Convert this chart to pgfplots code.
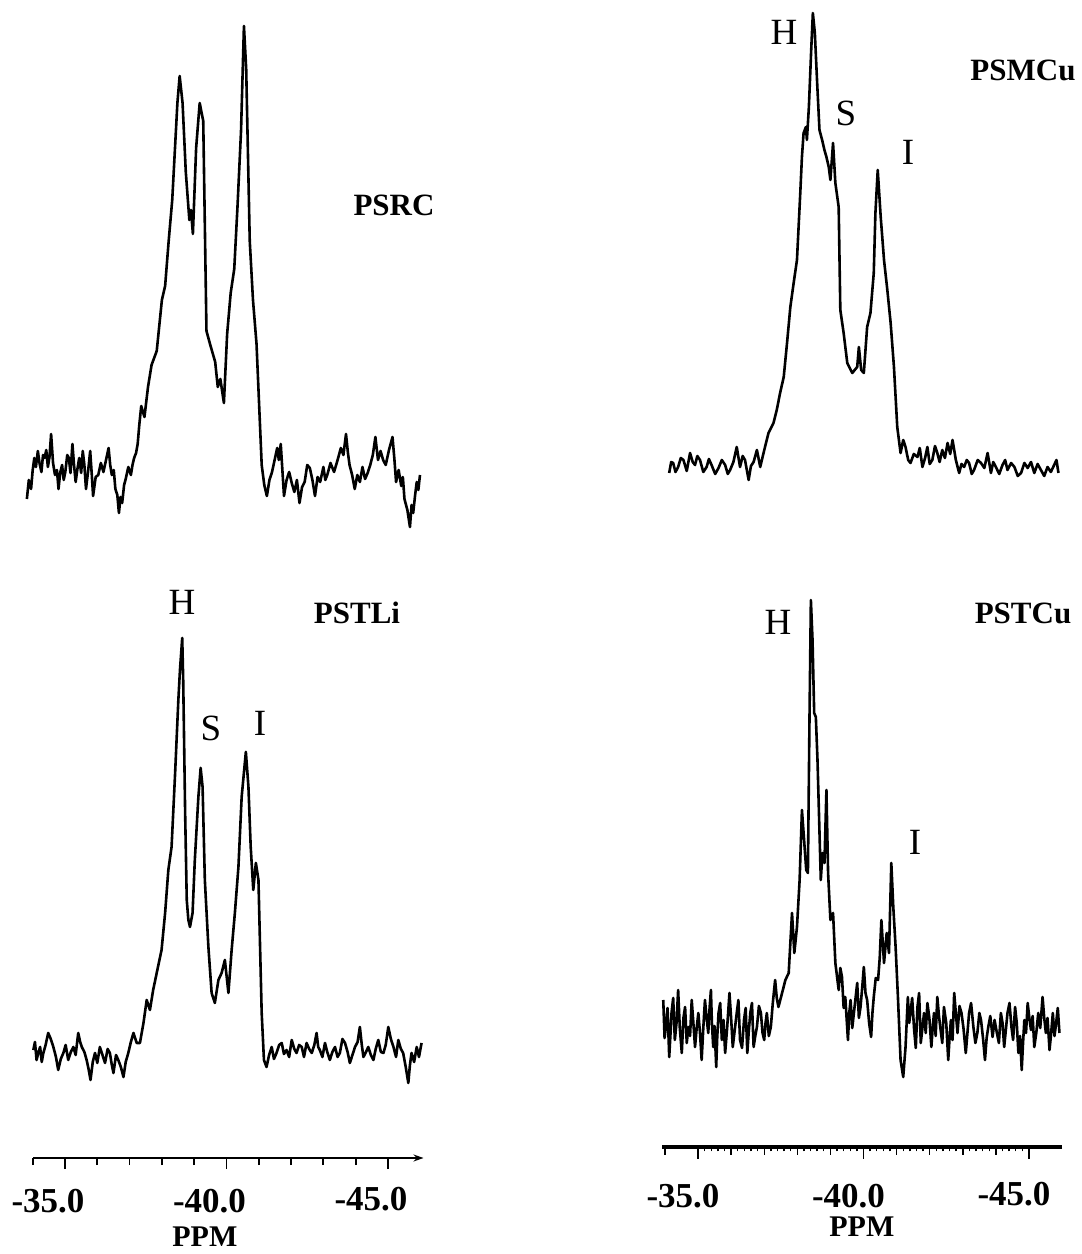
\documentclass[border=0pt]{standalone}
\usepackage{fontspec}
\setmainfont{Liberation Serif}
\usepackage{pgfplots}
\pgfplotsset{compat=1.18}
\usetikzlibrary{arrows.meta}

\pgfplotsset{
  spec/.style={scale only axis, enlargelimits=false, clip=false,
    x dir=reverse, anchor=south west},
  trace/.style={black, line width=1.3pt, line join=round, no marks},
  bigtick/.style={font=\bfseries\fontsize{17.5}{17.5}\selectfont, inner sep=0pt},
}
\newcommand{\lab}{\fontsize{18.5}{18.5}\selectfont}
\newcommand{\name}{\bfseries\fontsize{15.5}{15.5}\selectfont}

\begin{document}
\begin{tikzpicture}
\path (0pt,0pt) rectangle (541pt,627pt);

% PSRC
\begin{axis}[spec, hide axis, at={(8.275pt,349.5pt)}, width=209.95pt, height=275pt,
  xmin=-46.5, xmax=-33.5, ymin=-80, ymax=470]
\addplot[trace] coordinates {
(-33.82,-24) (-33.88,-5) (-33.95,-14) (-34.00,5) (-34.05,17) (-34.10,8)
(-34.16,24) (-34.21,12) (-34.27,3) (-34.32,20) (-34.37,17) (-34.42,25)
(-34.47,8) (-34.52,18) (-34.57,41) (-34.63,12) (-34.69,0) (-34.75,5)
(-34.80,-14) (-34.85,2) (-34.91,10) (-34.96,-5) (-35.01,3) (-35.07,20)
(-35.12,17) (-35.17,2) (-35.23,31) (-35.28,10) (-35.33,-7) (-35.38,5)
(-35.44,17) (-35.50,2) (-35.55,24) (-35.60,10) (-35.65,-14) (-35.72,5)
(-35.78,24) (-35.83,0) (-35.87,-21) (-35.95,-2) (-36.03,0) (-36.11,12)
(-36.19,3) (-36.27,15) (-36.35,27) (-36.40,10) (-36.45,0) (-36.51,5)
(-36.56,-14) (-36.62,-20) (-36.67,-38) (-36.72,-22) (-36.77,-28) (-36.83,-10)
(-36.88,-4) (-36.96,8) (-37.04,0) (-37.09,10) (-37.14,17) (-37.20,22)
(-37.25,31) (-37.30,50) (-37.36,69) (-37.46,58) (-37.57,88)
(-37.68,110) (-37.84,124) (-38.00,175) (-38.10,189) (-38.21,234) (-38.32,275)
(-38.48,372) (-38.55,399) (-38.64,372) (-38.74,303) (-38.85,255) (-38.90,265)
(-38.96,241) (-39.06,327) (-39.17,372) (-39.28,354) (-39.38,144) (-39.49,131)
(-39.65,113) (-39.73,88) (-39.81,96) (-39.92,72) (-40.02,141) (-40.13,182)
(-40.24,206) (-40.34,268) (-40.45,344) (-40.54,449) (-40.61,406) (-40.72,234)
(-40.82,175) (-40.93,131) (-41.09,10) (-41.17,-10) (-41.25,-21) (-41.33,-5)
(-41.41,3) (-41.49,15) (-41.57,27) (-41.62,15) (-41.68,31) (-41.73,5)
(-41.78,-21) (-41.86,-5) (-41.94,3) (-42.02,-8) (-42.10,-17) (-42.18,-5)
(-42.26,-28) (-42.34,-12) (-42.42,-7) (-42.50,10) (-42.58,7) (-42.66,-5)
(-42.74,-21) (-42.82,-2) (-42.90,-7) (-43.00,8) (-43.06,-5) (-43.12,0)
(-43.22,12) (-43.33,3) (-43.44,15) (-43.54,27) (-43.62,20) (-43.70,41)
(-43.76,22) (-43.81,10) (-43.89,0) (-43.97,-14) (-44.05,0) (-44.13,-7)
(-44.21,8) (-44.29,-4) (-44.37,2) (-44.45,10) (-44.53,20) (-44.61,38)
(-44.69,15) (-44.77,24) (-44.85,15) (-44.93,10) (-45.03,25) (-45.14,38)
(-45.20,15) (-45.25,-7) (-45.33,5) (-45.41,-11) (-45.46,-2) (-45.51,-24)
(-45.60,-35) (-45.68,-52) (-45.73,-30) (-45.78,-38) (-45.84,-20) (-45.89,-7)
(-45.94,-15) (-45.99,0)
};
\end{axis}

% PSMCu
\begin{axis}[spec, hide axis, at={(324.175pt,353pt)}, width=215.15pt, height=275pt,
  xmin=-46.5, xmax=-33.5, ymin=-80, ymax=470]
\addplot[trace] coordinates {
(-34.13,-5) (-34.19,6) (-34.25,5) (-34.32,-4) (-34.40,1) (-34.48,10)
(-34.56,8) (-34.66,-3) (-34.76,15) (-34.84,6) (-34.91,3) (-34.98,12)
(-35.06,8) (-35.16,-4) (-35.26,1) (-35.33,9) (-35.41,3) (-35.52,-6)
(-35.62,0) (-35.72,8) (-35.82,3) (-35.90,-6) (-35.97,-2) (-36.07,6)
(-36.17,21) (-36.27,1) (-36.35,12) (-36.42,8) (-36.53,-12) (-36.60,2)
(-36.68,6) (-36.78,18) (-36.88,1) (-36.98,15) (-37.13,35) (-37.28,45)
(-37.38,58) (-37.48,75) (-37.59,91) (-37.69,125) (-37.79,161) (-37.89,185)
(-37.99,208) (-38.09,275) (-38.14,311) (-38.19,335) (-38.26,341) (-38.29,328)
(-38.35,361) (-38.42,418) (-38.47,455) (-38.53,435) (-38.60,385) (-38.67,338)
(-38.75,328) (-38.82,318) (-38.88,311) (-38.95,301) (-39.00,288) (-39.08,325)
(-39.15,285) (-39.25,261) (-39.30,158) (-39.40,135) (-39.51,105) (-39.66,95)
(-39.81,101) (-39.86,121) (-39.93,98) (-40.01,95) (-40.11,141) (-40.21,155)
(-40.31,195) (-40.36,255) (-40.43,298) (-40.52,251) (-40.62,208) (-40.72,178)
(-40.82,145) (-40.92,101) (-41.02,41) (-41.12,15) (-41.20,28) (-41.27,21)
(-41.35,8) (-41.42,5) (-41.52,14) (-41.63,11) (-41.70,20) (-41.78,1)
(-41.86,10) (-41.93,21) (-42.00,4) (-42.08,8) (-42.16,22) (-42.23,15)
(-42.30,6) (-42.38,18) (-42.46,10) (-42.54,25) (-42.62,14) (-42.69,28)
(-42.79,8) (-42.89,-5) (-42.96,4) (-43.04,1) (-43.12,8) (-43.19,5)
(-43.27,-6) (-43.34,-2) (-43.45,8) (-43.55,5) (-43.65,0) (-43.75,15)
(-43.85,-5) (-43.92,6) (-44.00,1) (-44.10,-6) (-44.20,3) (-44.28,8)
(-44.35,-2) (-44.46,5) (-44.56,1) (-44.66,-8) (-44.76,-5) (-44.86,5)
(-44.96,0) (-45.06,6) (-45.16,-5) (-45.26,4) (-45.36,-2) (-45.46,-8)
(-45.56,1) (-45.66,-4) (-45.76,3) (-45.83,8) (-45.89,-5)
};
\end{axis}

% PSTLi
\begin{axis}[spec, at={(16.35pt,48pt)}, width=195.4pt, height=270.5pt,
  xmin=-46.1, xmax=-34.0, ymin=-101, ymax=440,
  axis x line=bottom, axis y line=none,
  x axis line style={line width=1.3pt, {Stealth[length=5pt,width=3.5pt]}-},
  tick align=outside, tick style={black, line width=0.9pt},
  major tick length=5.5pt, minor tick length=3.5pt,
  xtick={-35,-40,-45},
  minor xtick={-34,-36,-37,-38,-39,-41,-42,-43,-44},
  xticklabels={\raisebox{-2.6pt}{-35.0}, -40.0, \raisebox{2.6pt}{-45.0}},
  xticklabel style={bigtick, anchor=center, xshift=-8.5pt, yshift=-16pt},
  xlabel={PPM}, xlabel style={font=\bfseries\fontsize{15}{15}\selectfont,
    inner sep=0pt, at={(axis cs:-39.33,-180)}, anchor=center}]
\addplot[trace] coordinates {
(-34.02,7) (-34.07,15) (-34.12,-3) (-34.18,5) (-34.23,10) (-34.28,-5)
(-34.33,4) (-34.40,12) (-34.48,24) (-34.56,18) (-34.64,10) (-34.72,0)
(-34.79,-13) (-34.87,-2) (-34.95,4) (-35.02,12) (-35.10,-3) (-35.18,5)
(-35.26,10) (-35.33,2) (-35.41,24) (-35.47,15) (-35.52,10) (-35.60,5)
(-35.67,-3) (-35.73,-12) (-35.79,-23) (-35.86,-5) (-35.93,4) (-36.00,-6)
(-36.08,10) (-36.16,2) (-36.24,-6) (-36.32,8) (-36.39,4) (-36.45,-8)
(-36.50,-16) (-36.58,2) (-36.65,-3) (-36.73,-10) (-36.81,-20) (-36.88,-5)
(-36.96,4) (-37.04,15) (-37.12,24) (-37.22,14)
(-37.32,14) (-37.43,34) (-37.53,57) (-37.63,47) (-37.73,67) (-37.84,84)
(-37.99,107) (-38.10,144) (-38.20,187) (-38.30,210) (-38.41,284) (-38.51,357)
(-38.56,387) (-38.63,419) (-38.66,377) (-38.72,244) (-38.77,157) (-38.82,137)
(-38.87,130) (-38.95,144) (-39.02,197) (-39.13,260) (-39.20,289) (-39.26,270)
(-39.33,177) (-39.44,110) (-39.54,64) (-39.64,54) (-39.75,77) (-39.85,84)
(-39.95,97) (-40.06,64) (-40.16,107) (-40.26,144) (-40.37,190) (-40.47,260)
(-40.60,305) (-40.68,270) (-40.75,210) (-40.83,167) (-40.91,194) (-40.99,177)
(-41.04,110) (-41.09,44) (-41.16,-3) (-41.24,-10) (-41.32,2) (-41.40,10)
(-41.47,-2) (-41.55,4) (-41.63,12) (-41.71,14) (-41.78,3) (-41.86,7)
(-41.94,0) (-42.02,17) (-42.10,8) (-42.17,4) (-42.25,12) (-42.33,10)
(-42.40,0) (-42.48,14) (-42.56,8) (-42.64,4) (-42.72,12) (-42.79,24)
(-42.84,10) (-42.89,7) (-42.97,0) (-43.05,14) (-43.12,5) (-43.20,-3)
(-43.28,5) (-43.36,10) (-43.44,0) (-43.51,4) (-43.59,18) (-43.67,14)
(-43.75,5) (-43.82,-6) (-43.90,2) (-43.98,10) (-44.06,15) (-44.13,30)
(-44.19,12) (-44.24,0) (-44.32,5) (-44.39,10) (-44.47,2) (-44.55,-3)
(-44.62,8) (-44.70,17) (-44.78,5) (-44.86,4) (-44.93,12) (-45.01,30)
(-45.09,18) (-45.17,10) (-45.25,0) (-45.32,17) (-45.40,8) (-45.47,4)
(-45.55,-10) (-45.63,-26) (-45.68,-8) (-45.73,4) (-45.81,-5) (-45.89,10)
(-45.96,0) (-46.04,14)
};
\end{axis}

% PSTCu
\begin{axis}[spec, at={(330.8pt,53.5pt)}, width=200.25pt, height=279.5pt,
  xmin=-46.0, xmax=-33.9, ymin=-119, ymax=440,
  axis x line=bottom, axis y line=none,
  x axis line style={line width=2.4pt, -},
  tick align=outside, tick style={black, line width=0.7pt},
  major tick length=6pt, minor tick length=2.2pt,
  xtick={-35,-40,-45}, minor x tick num=24,
  extra x ticks={-34,-36,-37,-38,-39,-41,-42,-43,-44},
  extra x tick labels={},
  extra x tick style={major tick length=3.8pt},
  xticklabels={\raisebox{-2.5pt}{-35.0}, -40.0, \raisebox{2.5pt}{-45.0}},
  xticklabel style={bigtick, anchor=center, xshift=-7.5pt, yshift=-18.5pt},
  xlabel={PPM}, xlabel style={font=\bfseries\fontsize{15}{15}\selectfont,
    inner sep=0pt, at={(axis cs:-39.95,-199)}, anchor=center}]
\addplot[trace] coordinates {
(-33.95,28) (-33.99,-10) (-34.03,1) (-34.08,20) (-34.13,-29) (-34.17,-5)
(-34.20,15) (-34.25,30) (-34.30,-12) (-34.35,5) (-34.40,38) (-34.45,0)
(-34.51,-25) (-34.56,10) (-34.61,21) (-34.66,-15) (-34.71,1) (-34.76,-8)
(-34.81,28) (-34.86,5) (-34.91,-19) (-34.96,0) (-35.01,15) (-35.06,-5)
(-35.11,-32) (-35.16,0) (-35.21,28) (-35.26,10) (-35.31,-5) (-35.35,20)
(-35.39,38) (-35.42,5) (-35.46,-19) (-35.50,2) (-35.55,-39) (-35.58,-10)
(-35.62,15) (-35.67,25) (-35.72,-12) (-35.77,8) (-35.82,-25) (-35.88,0)
(-35.95,35) (-36.00,10) (-36.05,-19) (-36.11,-2) (-36.17,15) (-36.22,28)
(-36.27,-12) (-36.33,-20) (-36.39,8) (-36.44,20) (-36.49,-25) (-36.53,-5)
(-36.58,15) (-36.63,25) (-36.68,-19) (-36.73,-8) (-36.78,1) (-36.84,22)
(-36.90,15) (-36.95,-5) (-37.00,-12) (-37.04,5) (-37.08,15) (-37.14,-8)
(-37.20,1) (-37.26,25) (-37.33,48) (-37.38,30) (-37.43,21)
(-37.54,35) (-37.64,48) (-37.74,55) (-37.84,115) (-37.91,75) (-37.99,101)
(-38.07,148) (-38.14,218) (-38.19,195) (-38.27,158) (-38.32,155) (-38.37,315)
(-38.41,428) (-38.46,388) (-38.51,315) (-38.56,311) (-38.61,268) (-38.66,208)
(-38.71,148) (-38.76,175) (-38.82,165) (-38.88,238) (-38.93,155) (-39.00,108)
(-39.08,115) (-39.15,65) (-39.25,38) (-39.30,60) (-39.35,51) (-39.40,20)
(-39.45,31) (-39.53,-12) (-39.57,15) (-39.61,28) (-39.66,0) (-39.71,15)
(-39.76,30) (-39.81,45) (-39.86,10) (-39.91,21) (-39.96,40) (-40.01,61)
(-40.06,35) (-40.11,28) (-40.17,5) (-40.23,-9) (-40.27,15) (-40.31,31)
(-40.37,50) (-40.44,48) (-40.49,70) (-40.54,108) (-40.62,65) (-40.70,95)
(-40.77,75) (-40.84,165) (-40.90,121) (-40.97,81) (-41.04,31) (-41.12,-32)
(-41.20,-49) (-41.27,-19) (-41.34,31) (-41.38,5) (-41.42,15) (-41.47,30)
(-41.53,-2) (-41.58,-20) (-41.63,21) (-41.68,35) (-41.73,-15) (-41.78,0)
(-41.83,15) (-41.88,-5) (-41.93,25) (-41.99,10) (-42.05,-19) (-42.09,0)
(-42.13,15) (-42.18,-8) (-42.23,31) (-42.28,12) (-42.33,-2) (-42.38,-15)
(-42.43,21) (-42.50,5) (-42.56,-32) (-42.60,-10) (-42.64,8) (-42.69,-12)
(-42.74,35) (-42.79,15) (-42.84,-5) (-42.90,22) (-42.96,15) (-43.02,0)
(-43.09,-25) (-43.14,-5) (-43.19,15) (-43.25,25) (-43.32,1) (-43.38,-15)
(-43.44,-5) (-43.50,15) (-43.55,8) (-43.61,-10) (-43.67,-32) (-43.72,-10)
(-43.77,1) (-43.83,12) (-43.90,-9) (-43.96,8) (-44.03,-5) (-44.09,-15)
(-44.15,15) (-44.20,5) (-44.25,-19) (-44.30,-2) (-44.35,15) (-44.41,25)
(-44.47,1) (-44.52,-12) (-44.58,21) (-44.63,5) (-44.68,-25) (-44.73,-8)
(-44.78,-42) (-44.82,-15) (-44.86,8) (-44.91,-5) (-44.96,25) (-45.01,10)
(-45.06,-2) (-45.11,12) (-45.16,-19) (-45.22,-5) (-45.28,15) (-45.34,0)
(-45.41,31) (-45.46,10) (-45.51,-5) (-45.56,10) (-45.62,-22) (-45.67,-5)
(-45.72,15) (-45.77,-8) (-45.82,5) (-45.87,20) (-45.92,-5)
};
\end{axis}

% panel names and peak labels
\node[font=\name] at (197pt,524.5pt) {PSRC};
\node[font=\name, inner sep=1pt] at (511.5pt,592pt) {PSMCu};
\node[font=\lab] at (392pt,611pt) {H};
\node[font=\lab] at (423pt,570.5pt) {S};
\node[font=\lab] at (454pt,551pt) {I};
\node[font=\name] at (178.5pt,320.5pt) {PSTLi};
\node[font=\lab] at (91pt,326pt) {H};
\node[font=\lab] at (105.5pt,263pt) {S};
\node[font=\lab] at (130pt,265.5pt) {I};
\node[font=\name, inner sep=1pt] at (511.5pt,320.5pt) {PSTCu};
\node[font=\lab] at (389pt,316pt) {H};
\node[font=\lab] at (457.5pt,206pt) {I};
\end{tikzpicture}
\end{document}
